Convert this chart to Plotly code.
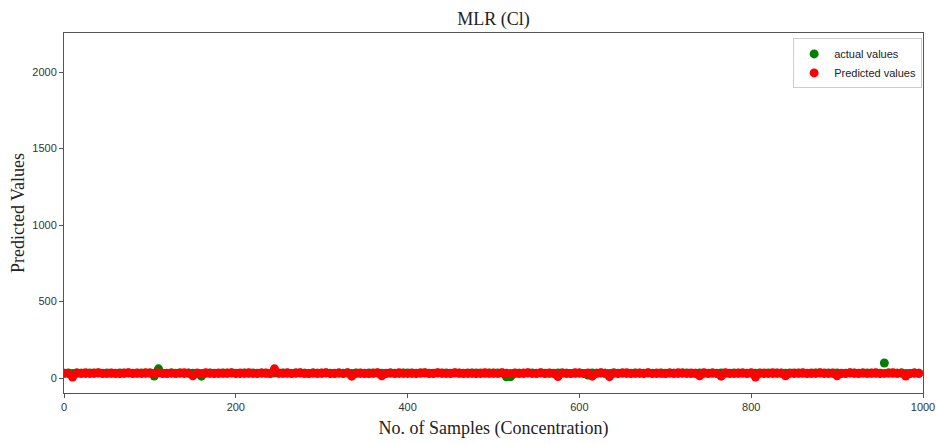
import plotly.graph_objects as go

# Sample numbers (every 5th sample of the test set)
sample_no = list(range(0, 1000, 5))

actual_values = [
    31, 32, 30, 33, 31, 30, 32, 31, 33, 30, 32, 31, 30, 33, 31, 32, 30, 31, 33, 31,
    32, 13, 60, 31, 30, 32, 31, 33, 30, 32, 31, 30, 12, 31, 32, 31, 30, 33, 31, 32,
    31, 30, 32, 31, 33, 30, 32, 31, 30, 32, 31, 33, 31, 30, 32, 33, 31, 30, 32, 31,
    31, 32, 31, 30, 33, 31, 32, 30, 32, 31, 30, 32, 31, 33, 31, 30, 32, 31, 30, 32,
    32, 31, 30, 32, 33, 31, 30, 32, 31, 32, 30, 33, 31, 31, 30, 32, 32, 30, 31, 33,
    31, 32, 32, 8, 9, 31, 31, 30, 32, 32, 30, 33, 31, 31, 30, 32, 32, 31, 30, 31,
    32, 30, 20, 32, 31, 33, 31, 30, 32, 31, 32, 30, 31, 33, 31, 30, 32, 31, 30, 32,
    31, 32, 31, 30, 32, 33, 30, 31, 32, 31, 30, 32, 31, 33, 31, 30, 32, 31, 32, 30,
    31, 31, 32, 30, 32, 30, 33, 31, 31, 32, 30, 32, 31, 31, 30, 33, 32, 30, 32, 31,
    32, 30, 31, 32, 31, 30, 33, 32, 31, 31, 30, 98, 32, 31, 31, 32, 30, 30, 32, 31,
]

predicted_values = [
    31, 30, 6, 33, 31, 34, 30, 32, 35, 31, 30, 33, 31, 29, 33, 35, 31, 32, 30, 34,
    33, 31, 34, 30, 31, 33, 30, 32, 34, 31, 14, 33, 30, 35, 31, 30, 33, 31, 32, 35,
    30, 33, 31, 34, 30, 31, 33, 32, 29, 60, 33, 31, 35, 30, 32, 34, 31, 30, 33, 31,
    32, 35, 30, 31, 33, 30, 34, 12, 31, 33, 31, 29, 33, 35, 14, 31, 32, 30, 34, 31,
    30, 33, 31, 33, 35, 30, 31, 34, 32, 30, 31, 35, 33, 30, 33, 31, 29, 32, 34, 31,
    33, 30, 35, 31, 30, 33, 31, 32, 34, 30, 31, 35, 30, 33, 31, 10, 33, 31, 30, 34,
    32, 30, 33, 12, 31, 35, 31, 9, 33, 30, 32, 34, 30, 31, 33, 31, 35, 30, 33, 31,
    29, 33, 31, 34, 32, 30, 33, 31, 14, 35, 31, 33, 30, 12, 34, 31, 30, 33, 32, 31,
    35, 6, 31, 33, 30, 34, 31, 32, 15, 30, 33, 31, 35, 30, 33, 31, 34, 32, 30, 33,
    14, 31, 30, 35, 33, 31, 33, 30, 32, 34, 31, 30, 33, 35, 31, 32, 13, 30, 33, 31,
]

x_ticks = [0, 200, 400, 600, 800, 1000]
y_ticks = [0, 500, 1000, 1500, 2000]

fig = go.Figure()
fig.add_trace(go.Scatter(
    x=sample_no, y=actual_values, mode="markers", name="actual values",
    marker=dict(color="#008000", size=9, line=dict(width=0)),
))
fig.add_trace(go.Scatter(
    x=sample_no, y=predicted_values, mode="markers", name="Predicted values",
    marker=dict(color="#ff0000", size=9, line=dict(width=0)),
))

tick_font = dict(family="Liberation Sans Narrow, Liberation Sans", size=11, color="#333")
axis_common = dict(
    showgrid=False, zeroline=False, showline=True, linecolor="#555",
    linewidth=1, mirror=True, ticks="outside", ticklen=4, tickcolor="#555",
    tickfont=tick_font, automargin=False,
)

fig.update_layout(
    width=936, height=444,
    margin=dict(l=64, r=13, t=33, b=51),
    paper_bgcolor="white", plot_bgcolor="white",
    title=dict(text="MLR (Cl)", x=0.5, xref="paper", xanchor="center",
               y=0.957, yref="container", yanchor="middle", automargin=False,
               font=dict(family="Liberation Serif", size=18, color="#222")),
    xaxis=dict(range=[0, 1000], tickvals=x_ticks,
               title=dict(text="No. of Samples (Concentration)", standoff=9,
                          font=dict(family="Liberation Serif", size=18, color="#222")),
               **axis_common),
    yaxis=dict(range=[-98, 2255], tickvals=y_ticks,
               title=dict(text="Predicted Values", standoff=3,
                          font=dict(family="Liberation Serif", size=18, color="#222")),
               **axis_common),
    legend=dict(x=0.999, y=0.985, xanchor="right", yanchor="top",
                bgcolor="white", bordercolor="#ccc", borderwidth=1,
                font=dict(family="Liberation Sans Narrow, Liberation Sans", size=11, color="#222"),
                itemsizing="trace", tracegroupgap=0),
    showlegend=True,
)

# remove the default page margin so the 936x444 figure fills the window exactly
fig.write_html(
    "out.html",
    config={"displayModeBar": False},
    post_script="document.body.style.margin='0';document.body.style.overflow='hidden';",
)
